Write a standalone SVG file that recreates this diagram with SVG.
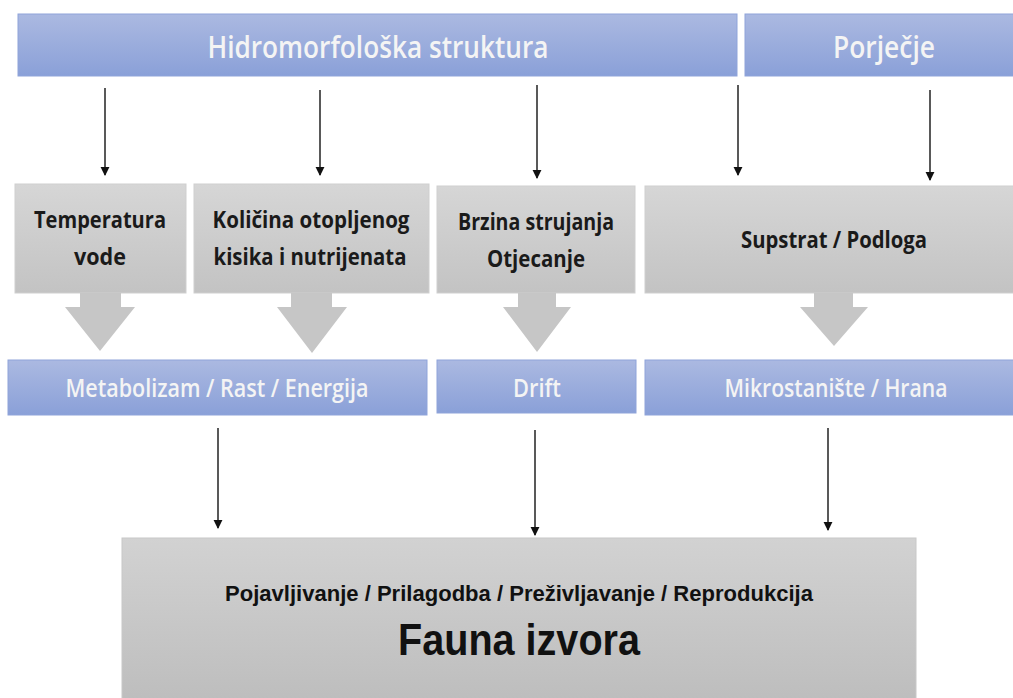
<svg xmlns="http://www.w3.org/2000/svg" width="1013" height="698" viewBox="0 0 1013 698">
<defs>
<linearGradient id="gBlue" x1="0" y1="0" x2="0" y2="1"><stop offset="0" stop-color="#abb9e1"/><stop offset="1" stop-color="#8aa0d8"/></linearGradient>
<linearGradient id="gGray" x1="0" y1="0" x2="0" y2="1"><stop offset="0" stop-color="#d6d6d6"/><stop offset="1" stop-color="#c3c3c3"/></linearGradient>
<linearGradient id="gGray2" x1="0" y1="0" x2="0" y2="1"><stop offset="0" stop-color="#d2d2d2"/><stop offset="1" stop-color="#bdbdbd"/></linearGradient>
<marker id="ah" viewBox="0 0 10 10" refX="9" refY="5" markerWidth="9" markerHeight="11" markerUnits="userSpaceOnUse" orient="auto"><path d="M0,0 L10,5 L0,10 Z" fill="#111"/></marker>
<style>
.blue{fill:url(#gBlue);stroke:#8fa4da;stroke-width:1}
.gray{fill:url(#gGray);stroke:#cfcfcf;stroke-width:1}
.big{fill:url(#gGray2);stroke:#c8c8c8;stroke-width:1}
.bt{font-family:"Open Sans","Liberation Sans",sans-serif;font-weight:600;fill:#f4f4f4;text-anchor:middle}
.gt{font-family:"Open Sans","Liberation Sans",sans-serif;font-weight:bold;fill:#1a1a1a;font-size:23px;text-anchor:middle}
.ft{font-family:"Liberation Sans",Arial,sans-serif;font-weight:bold;fill:#111;text-anchor:middle}
.thin{stroke:#222;stroke-width:1.5;fill:none;marker-end:url(#ah)}
.block{fill:#c6c6c6}
</style>
</defs>
<rect width="1013" height="698" fill="#ffffff"/>

<g id="hidromorfoloska">
<rect class="blue" x="18" y="14" width="719" height="62"/>
<text class="bt" x="378" y="58" font-size="30" textLength="341" lengthAdjust="spacingAndGlyphs">Hidromorfološka struktura</text>
</g>
<g id="porjecje">
<rect class="blue" x="745" y="14" width="270" height="62"/>
<text class="bt" x="884" y="58" font-size="30" textLength="102" lengthAdjust="spacingAndGlyphs">Porječje</text>
</g>

<g id="temperatura">
<rect class="gray" x="15" y="184" width="171" height="109"/>
<text class="gt" x="100" y="228" textLength="132" lengthAdjust="spacingAndGlyphs">Temperatura</text>
<text class="gt" x="100" y="265" textLength="52" lengthAdjust="spacingAndGlyphs">vode</text>
</g>
<g id="kisik">
<rect class="gray" x="194" y="184" width="235" height="109"/>
<text class="gt" x="311" y="228" textLength="197" lengthAdjust="spacingAndGlyphs">Količina otopljenog</text>
<text class="gt" x="310" y="265" textLength="193" lengthAdjust="spacingAndGlyphs">kisika i nutrijenata</text>
</g>
<g id="brzina">
<rect class="gray" x="437" y="186" width="198" height="107"/>
<text class="gt" x="536" y="230" textLength="156" lengthAdjust="spacingAndGlyphs">Brzina strujanja</text>
<text class="gt" x="536" y="267" textLength="98" lengthAdjust="spacingAndGlyphs">Otjecanje</text>
</g>
<g id="supstrat">
<rect class="gray" x="645" y="186" width="370" height="107"/>
<text class="gt" x="834" y="248" textLength="186" lengthAdjust="spacingAndGlyphs">Supstrat / Podloga</text>
</g>

<g id="block-arrows">
<polygon class="block" points="80,293 121,293 121,307 135,307 100,351 65,307 80,307"/>
<polygon class="block" points="291,293 332,293 332,307 347,307 312,353 277,307 291,307"/>
<polygon class="block" points="518,293 556,293 556,307 571,307 537,352 503,307 518,307"/>
<polygon class="block" points="814,293 853,293 853,307 868,307 834,346 800,307 814,307"/>
</g>

<g id="metabolizam">
<rect class="blue" x="8" y="360" width="419" height="55"/>
<text class="bt" x="217" y="397" font-size="25" textLength="303" lengthAdjust="spacingAndGlyphs">Metabolizam / Rast / Energija</text>
</g>
<g id="drift">
<rect class="blue" x="437" y="360" width="199" height="53"/>
<text class="bt" x="537" y="397" font-size="25" textLength="48" lengthAdjust="spacingAndGlyphs">Drift</text>
</g>
<g id="mikrostaniste">
<rect class="blue" x="645" y="360" width="370" height="55"/>
<text class="bt" x="836" y="397" font-size="25" textLength="223" lengthAdjust="spacingAndGlyphs">Mikrostanište / Hrana</text>
</g>

<g id="fauna">
<rect class="big" x="122" y="538" width="794" height="165"/>
<text class="ft" x="519" y="601" font-size="22" textLength="588" lengthAdjust="spacingAndGlyphs">Pojavljivanje / Prilagodba / Preživljavanje / Reprodukcija</text>
<text class="ft" x="519" y="655" font-size="44" textLength="242" lengthAdjust="spacingAndGlyphs">Fauna izvora</text>
</g>

<g id="connectors">
<line class="thin" x1="105" y1="88" x2="105" y2="175"/>
<line class="thin" x1="320" y1="90" x2="320" y2="175"/>
<line class="thin" x1="537" y1="85" x2="537" y2="178"/>
<line class="thin" x1="738" y1="85" x2="738" y2="175"/>
<line class="thin" x1="930" y1="90" x2="930" y2="180"/>
<line class="thin" x1="218" y1="428" x2="218" y2="528"/>
<line class="thin" x1="535" y1="430" x2="535" y2="535"/>
<line class="thin" x1="828" y1="428" x2="828" y2="530"/>
</g>
</svg>
